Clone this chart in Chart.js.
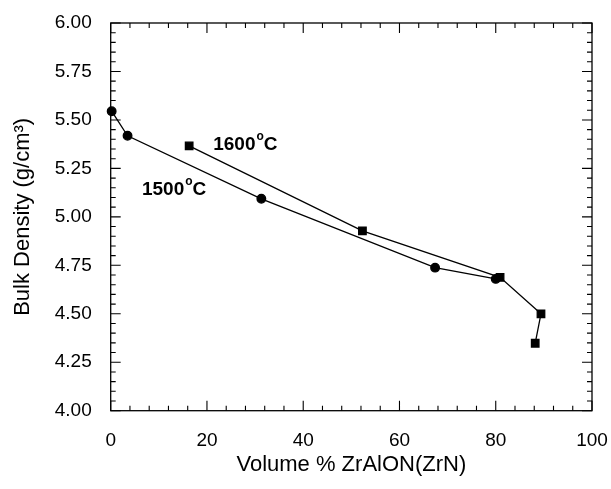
<!DOCTYPE html>
<html>
<head>
<meta charset="utf-8">
<script src="https://cdn.jsdelivr.net/npm/chart.js@4"></script>
<style>
  html, body { margin: 0; padding: 0; background: #fff; }
  #wrap { width: 611px; height: 489px; }
</style>
</head>
<body>
<div id="wrap"><canvas id="myChart"></canvas></div>
<script>
'use strict';
// data
const x1500 = [0.2, 3.5, 31.3, 67.4, 80.0];
const y1500 = [5.545, 5.418, 5.093, 4.738, 4.680];
const x1600 = [16.3, 52.3, 80.9, 89.4, 88.2];
const y1600 = [5.366, 4.928, 4.688, 4.500, 4.348];
const xTicks = [0, 20, 40, 60, 80, 100];
const yTicks = [4.00, 4.25, 4.50, 4.75, 5.00, 5.25, 5.50, 5.75, 6.00];
const seriesLabels = ['1500', '1600'];

const FONT = '"Liberation Sans", Arial, sans-serif';

const toPoints = (xs, ys) => xs.map((x, i) => ({ x: x, y: ys[i] }));

// frame + inward ticks on all four sides, and the temperature labels
const framePlugin = {
    id: 'frame',
    afterDatasetsDraw(chart) {
        const { ctx, chartArea: a, scales } = chart;
        const xs = scales.x, ys = scales.y;
        ctx.save();
        ctx.strokeStyle = '#000';
        ctx.lineWidth = 1.3;
        ctx.strokeRect(a.left, a.top, a.right - a.left, a.bottom - a.top);
        ctx.lineWidth = 1.1;
        ctx.beginPath();
        for (let v = 0; v <= 100.001; v += 4) {
            const px = xs.getPixelForValue(v);
            const len = (Math.round(v) % 20 === 0) ? 10 : 5;
            ctx.moveTo(px, a.bottom); ctx.lineTo(px, a.bottom - len);
            ctx.moveTo(px, a.top); ctx.lineTo(px, a.top + len);
        }
        for (let i = 0; i <= 40; i++) {
            const v = 4 + i * 0.05;
            const py = ys.getPixelForValue(v);
            const len = (i % 5 === 0) ? 10 : 5;
            ctx.moveTo(a.left, py); ctx.lineTo(a.left + len, py);
            ctx.moveTo(a.right, py); ctx.lineTo(a.right - len, py);
        }
        ctx.stroke();

        const drawTemp = (txt, xv, yv) => {
            let px = xs.getPixelForValue(xv);
            const py = ys.getPixelForValue(yv);
            ctx.fillStyle = '#000';
            ctx.textBaseline = 'middle';
            ctx.textAlign = 'left';
            ctx.font = 'bold 19px ' + FONT;
            ctx.fillText(txt, px, py);
            px += ctx.measureText(txt).width + 1;
            ctx.font = 'bold 12px ' + FONT;
            ctx.fillText('o', px, py - 8);
            px += ctx.measureText('o').width;
            ctx.font = 'bold 19px ' + FONT;
            ctx.fillText('C', px, py);
        };
        drawTemp(seriesLabels[1], 21.3, 5.37);
        drawTemp(seriesLabels[0], 6.5, 5.14);
        ctx.restore();
    }
};

const ctx = document.getElementById('myChart');
const myChart = new Chart(ctx.getContext('2d'), {
    type: 'scatter',
    data: {
        datasets: [{
            label: seriesLabels[0] + '°C',
            data: toPoints(x1500, y1500),
            showLine: true,
            borderColor: '#000',
            backgroundColor: '#000',
            borderWidth: 1.3,
            pointStyle: 'circle',
            pointRadius: 4.3,
            pointHoverRadius: 4.3,
            clip: false
        }, {
            label: seriesLabels[1] + '°C',
            data: toPoints(x1600, y1600),
            showLine: true,
            borderColor: '#000',
            backgroundColor: '#000',
            borderWidth: 1.3,
            pointStyle: 'rect',
            pointRadius: 5.3,
            pointHoverRadius: 5.3,
            clip: false
        }]
    },
    options: {
        responsive: true,
        maintainAspectRatio: false,
        animation: false,
        events: [],
        layout: {
            padding: { top: 23, right: 19, left: 10, bottom: 7 }
        },
        plugins: {
            legend: { display: false },
            tooltip: { enabled: false }
        },
        scales: {
            x: {
                type: 'linear',
                min: 0,
                max: 100,
                afterBuildTicks: scale => { scale.ticks = xTicks.map(v => ({ value: v })); },
                afterFit: scale => {
                    scale.height = 71.3;
                    scale.paddingLeft = 0;
                    scale.paddingRight = 0;
                },
                grid: { display: false, drawTicks: false },
                border: { display: false },
                ticks: {
                    color: '#000',
                    padding: 19,
                    maxRotation: 0,
                    font: { family: FONT, size: 19 }
                },
                title: {
                    display: true,
                    text: 'Volume % ZrAlON(ZrN)',
                    color: '#000',
                    font: { family: FONT, size: 22 }
                }
            },
            y: {
                type: 'linear',
                min: 4,
                max: 6,
                afterBuildTicks: scale => { scale.ticks = yTicks.map(v => ({ value: v })); },
                afterFit: scale => {
                    scale.width = 100.7;
                    scale.paddingTop = 0;
                    scale.paddingBottom = 0;
                },
                grid: { display: false, drawTicks: false },
                border: { display: false },
                ticks: {
                    color: '#000',
                    padding: 19,
                    font: { family: FONT, size: 19 },
                    callback: v => Number(v).toFixed(2)
                },
                title: {
                    display: true,
                    text: 'Bulk Density (g/cm³)',
                    color: '#000',
                    padding: { top: 0, bottom: 4 },
                    font: { family: FONT, size: 22 }
                }
            }
        }
    },
    plugins: [framePlugin]
});
</script>
</body>
</html>
